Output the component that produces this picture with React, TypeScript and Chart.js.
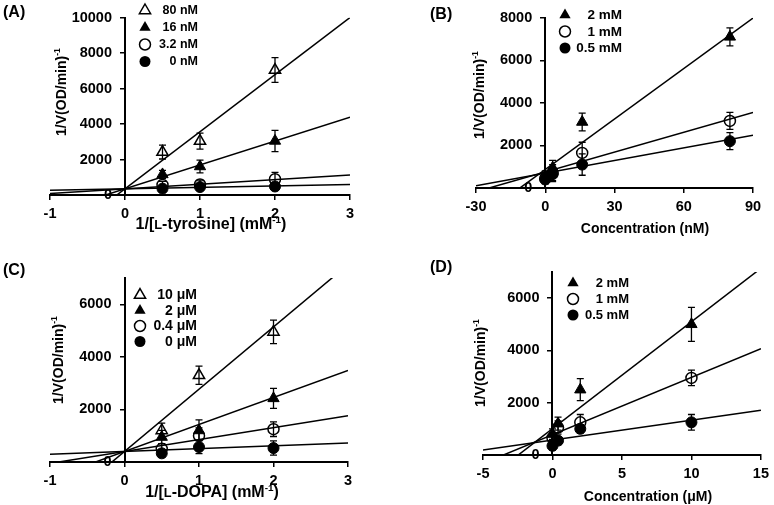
import React, { useEffect, useRef } from 'react';
import { Chart, registerables, LinearScale } from 'chart.js';

Chart.register(...registerables);

// Linear scale whose tick labels keep the tick + padding gap when the axis is
// placed at a data value ({ x: 0 }) rather than at a chart edge.
class CrossLinearScale extends (LinearScale as any) {
  static id = 'crossLinear';
  static defaults = (LinearScale as any).defaults;
  _computeLabelItems(chartArea: any) {
    const items = super._computeLabelItems(chartArea);
    const o: any = (this as any).options;
    if ((this as any).axis === 'y' && typeof o.position === 'object') {
      const shift = (o.grid && o.grid.drawTicks ? o.grid.tickLength : 0) + o.ticks.padding;
      items.forEach((it: any) => {
        it.options.translation[0] -= shift;
      });
    }
    return items;
  }
}
Chart.register(CrossLinearScale as any);

const FONT = "'Liberation Sans', Arial, Helvetica, sans-serif";

// ---------- Panel A : 1/[L-tyrosine] (mM^-1), inhibitor series
const A_X = [0.5, 1, 2];
const A_SERIES = ['80 nM', '16 nM', '3.2 nM', '0 nM'];
const A_MARKERS = ['openTri', 'fillTri', 'openCircle', 'fillCircle'];
const A_MEANS = [[2420, 3040, 7050], [1160, 1610, 3050], [570, 590, 890], [360, 450, 480]];
const A_ERRORS = [[390, 450, 700], [230, 360, 600], [200, 250, 390], [120, 150, 150]];
const A_SLOPE = [3220, 1347, 260, 80];
const A_INTERCEPT = [350, 350, 350, 350];
const A_XTICKS = [-1, 0, 1, 2, 3];
const A_YTICKS = [0, 2000, 4000, 6000, 8000, 10000];

// ---------- Panel B : Concentration (nM), substrate series
const B_X = [0, 3.2, 16, 80];
const B_SERIES = ['2 mM', '1 mM', '0.5 mM'];
const B_MARKERS = ['fillTri', 'openCircle', 'fillCircle'];
const B_MEANS = [[550, 950, 3100, 7100], [450, 700, 1650, 3150], [400, 650, 1100, 2200]];
const B_ERRORS = [[250, 350, 420, 420], [200, 400, 500, 400], [200, 300, 500, 400]];
const B_SLOPE = [79, 31, 19.8];
const B_INTERCEPT = [869, 755, 700];
const B_XTICKS = [-30, 0, 30, 60, 90];
const B_YTICKS = [0, 2000, 4000, 6000, 8000];

// ---------- Panel C : 1/[L-DOPA] (mM^-1), inhibitor series
const C_X = [0.5, 1, 2];
const C_SERIES = ['10 μM', '2 μM', '0.4 μM', '0 μM'];
const C_MARKERS = ['openTri', 'fillTri', 'openCircle', 'fillCircle'];
const C_MEANS = [[1200, 3300, 4950], [950, 1200, 2420], [500, 1000, 1250], [330, 570, 530]];
const C_ERRORS = [[280, 350, 450], [250, 400, 380], [200, 300, 280], [150, 250, 270]];
const C_SLOPE = [2370, 1027, 453, 107];
const C_INTERCEPT = [400, 400, 400, 400];
const C_XTICKS = [-1, 0, 1, 2, 3];
const C_YTICKS = [0, 2000, 4000, 6000];

// ---------- Panel D : Concentration (μM), substrate series
const D_X = [0, 0.4, 2, 10];
const D_SERIES = ['2 mM', '1 mM', '0.5 mM'];
const D_MARKERS = ['fillTri', 'openCircle', 'fillCircle'];
const D_MEANS = [[800, 1200, 2500, 5000], [650, 1050, 1250, 2950], [350, 550, 1000, 1250]];
const D_ERRORS = [[200, 250, 420, 650], [200, 250, 300, 300], [150, 150, 150, 300]];
const D_SLOPE = [409, 219.5, 76];
const D_INTERCEPT = [1007, 775, 571];
const D_XTICKS = [-5, 0, 5, 10, 15];
const D_YTICKS = [0, 2000, 4000, 6000];

type Panel = {
  id: string;
  x: number[];
  series: string[];
  markers: string[];
  means: number[][];
  errors: number[][];
  slope: number[];
  intercept: number[];
  xTicks: number[];
  yTicks: number[];
  xRange: [number, number];
  yRange: [number, number];
  pad: { left: number; right: number; top: number; bottom: number };
  legend: { markerX: number; textRight: number; y0: number; dy: number; size: number };
};

const PANELS: Panel[] = [
  {
    id: 'A', x: A_X, series: A_SERIES, markers: A_MARKERS, means: A_MEANS, errors: A_ERRORS,
    slope: A_SLOPE, intercept: A_INTERCEPT, xTicks: A_XTICKS, yTicks: A_YTICKS,
    xRange: [-1, 3], yRange: [0, 10000],
    pad: { left: 50, right: 424, top: 9, bottom: 285 },
    legend: { markerX: 145, textRight: 198, y0: 10.5, dy: 17, size: 12.5 },
  },
  {
    id: 'B', x: B_X, series: B_SERIES, markers: B_MARKERS, means: B_MEANS, errors: B_ERRORS,
    slope: B_SLOPE, intercept: B_INTERCEPT, xTicks: B_XTICKS, yTicks: B_YTICKS,
    xRange: [-30, 90], yRange: [0, 8000],
    pad: { left: 476, right: 21, top: 13, bottom: 292 },
    legend: { markerX: 565, textRight: 622, y0: 15, dy: 16.5, size: 13.5 },
  },
  {
    id: 'C', x: C_X, series: C_SERIES, markers: C_MARKERS, means: C_MEANS, errors: C_ERRORS,
    slope: C_SLOPE, intercept: C_INTERCEPT, xTicks: C_XTICKS, yTicks: C_YTICKS,
    xRange: [-1, 3], yRange: [0, 7000],
    pad: { left: 50, right: 426, top: 278, bottom: 18 },
    legend: { markerX: 140, textRight: 197, y0: 295, dy: 15.5, size: 14 },
  },
  {
    id: 'D', x: D_X, series: D_SERIES, markers: D_MARKERS, means: D_MEANS, errors: D_ERRORS,
    slope: D_SLOPE, intercept: D_INTERCEPT, xTicks: D_XTICKS, yTicks: D_YTICKS,
    xRange: [-5, 15], yRange: [0, 7000],
    pad: { left: 483, right: 11, top: 272, bottom: 25 },
    legend: { markerX: 573, textRight: 629, y0: 283, dy: 16, size: 13 },
  },
];

const MARKER_STYLE: Record<string, { style: string; filled: boolean; r: number }> = {
  openTri: { style: 'triangle', filled: false, r: 6.5 },
  fillTri: { style: 'triangle', filled: true, r: 6.5 },
  openCircle: { style: 'circle', filled: false, r: 5.5 },
  fillCircle: { style: 'circle', filled: true, r: 5.5 },
};

function drawMarker(ctx: CanvasRenderingContext2D, kind: string, x: number, y: number) {
  const m = MARKER_STYLE[kind];
  ctx.beginPath();
  if (m.style === 'triangle') {
    const r = m.r;
    ctx.moveTo(x, y - r);
    ctx.lineTo(x + r * 0.866, y + r * 0.5);
    ctx.lineTo(x - r * 0.866, y + r * 0.5);
    ctx.closePath();
  } else {
    ctx.arc(x, y, m.r, 0, Math.PI * 2);
  }
  if (m.filled) {
    ctx.fillStyle = '#000';
    ctx.fill();
  } else {
    ctx.lineWidth = 1.5;
    ctx.strokeStyle = '#000';
    ctx.stroke();
  }
}

function makeDecor(p: Panel) {
  return {
    id: 'decor' + p.id,
    afterDatasetsDraw(chart: any) {
      const ctx: CanvasRenderingContext2D = chart.ctx;
      const xs = chart.scales.x;
      const ys = chart.scales.y;
      ctx.save();
      ctx.strokeStyle = '#000';
      ctx.lineWidth = 1.3;
      p.means.forEach((row, i) =>
        row.forEach((m, j) => {
          const e = p.errors[i][j];
          const px = xs.getPixelForValue(p.x[j]);
          const yt = ys.getPixelForValue(m + e);
          const yb = ys.getPixelForValue(Math.max(m - e, 0));
          ctx.beginPath();
          ctx.moveTo(px, yt);
          ctx.lineTo(px, yb);
          ctx.moveTo(px - 3.5, yt);
          ctx.lineTo(px + 3.5, yt);
          ctx.moveTo(px - 3.5, yb);
          ctx.lineTo(px + 3.5, yb);
          ctx.stroke();
        })
      );
      // legend
      const L = p.legend;
      ctx.font = `bold ${L.size}px ${FONT}`;
      ctx.textAlign = 'right';
      ctx.textBaseline = 'middle';
      p.series.forEach((label, i) => {
        const y = L.y0 + i * L.dy;
        drawMarker(ctx, p.markers[i], L.markerX, y);
        ctx.fillStyle = '#000';
        ctx.fillText(label, L.textRight, y + 0.5);
      });
      ctx.restore();
    },
  };
}

function buildConfig(p: Panel): any {
  const pointSets = p.series.map((label, i) => {
    const m = MARKER_STYLE[p.markers[i]];
    return {
      label,
      data: p.x.map((xv, j) => ({ x: xv, y: p.means[i][j] })),
      showLine: false,
      pointStyle: m.style,
      pointRadius: m.r,
      pointBackgroundColor: m.filled ? '#000' : 'rgba(0,0,0,0)',
      pointBorderColor: '#000',
      pointBorderWidth: m.filled ? 1 : 1.5,
      order: 1,
    };
  });
  const fitSets = p.series.map((label, i) => ({
    label: label + ' fit',
    data: [p.xRange[0], p.xRange[1]].map((xv) => ({ x: xv, y: p.intercept[i] + p.slope[i] * xv })),
    showLine: true,
    borderColor: '#000',
    borderWidth: 1.5,
    pointRadius: 0,
    fill: false,
    clip: 0,
    order: 2,
  }));
  const font = { family: FONT, size: 14.5, weight: 'bold' as const };
  const grid = { display: true, drawOnChartArea: false, drawTicks: true, tickLength: 5, color: '#000', lineWidth: 1.5 };
  const border = { display: true, color: '#000', width: 2 };
  return {
    type: 'scatter',
    data: { datasets: [...fitSets, ...pointSets] },
    options: {
      responsive: false,
      animation: false,
      devicePixelRatio: 1,
      layout: { padding: p.pad },
      plugins: { legend: { display: false }, tooltip: { enabled: false }, title: { display: false } },
      scales: {
        x: {
          type: 'linear',
          position: 'bottom',
          min: p.xRange[0],
          max: p.xRange[1],
          afterBuildTicks: (s: any) => { s.ticks = p.xTicks.map((v) => ({ value: v })); },
          afterFit: (s: any) => { s.height = 25; },
          grid,
          border,
          ticks: { color: '#000', font, padding: 5, maxRotation: 0, autoSkip: false, callback: (v: any) => String(v) },
        },
        y: {
          type: 'crossLinear',
          position: { x: 0 },
          min: p.yRange[0],
          max: p.yRange[1],
          afterBuildTicks: (s: any) => { s.ticks = p.yTicks.map((v) => ({ value: v })); },
          grid: { ...grid, tickLength: 4 },
          border,
          ticks: { color: '#000', font, padding: 9, autoSkip: false, callback: (v: any) => String(v) },
        },
      },
    },
    plugins: [makeDecor(p)],
  };
}

const sup = (t: string) => (
  <span style={{ fontSize: '0.62em', position: 'relative', top: '-0.65em' }}>{t}</span>
);

const txt = (left: number, top: number, size: number, content: React.ReactNode, rotate = false) => (
  <div
    style={{
      position: 'absolute',
      left,
      top,
      transform: rotate ? 'translate(-50%,-50%) rotate(-90deg)' : 'translate(-50%,-50%)',
      font: `bold ${size}px ${FONT}`,
      whiteSpace: 'nowrap',
      lineHeight: 1,
      color: '#000',
    }}
  >
    {content}
  </div>
);

const label = (left: number, top: number, t: string) => (
  <div style={{ position: 'absolute', left, top, transform: 'translateY(-50%)', font: `bold 16px ${FONT}`, lineHeight: 1, color: '#000' }}>{t}</div>
);

const yTitle = <>1/V(OD/min){sup('-1')}</>;
const smallL = <span style={{ fontSize: '0.8em' }}>L</span>;

export default function App() {
  const r0 = useRef<HTMLCanvasElement>(null);
  const r1 = useRef<HTMLCanvasElement>(null);
  const r2 = useRef<HTMLCanvasElement>(null);
  const r3 = useRef<HTMLCanvasElement>(null);
  const refs = [r0, r1, r2, r3];
  useEffect(() => {
    const charts = PANELS.map((p, i) => new Chart(refs[i].current as HTMLCanvasElement, buildConfig(p)));
    return () => charts.forEach((c) => c.destroy());
  }, []);
  return (
    <div style={{ position: 'absolute', left: 0, top: 0, width: 774, height: 505, background: '#fff', overflow: 'hidden' }}>
      {PANELS.map((p, i) => (
        <canvas
          key={p.id}
          ref={refs[i]}
          width={774}
          height={505}
          style={{ position: 'absolute', left: 0, top: 0, width: 774, height: 505 }}
        />
      ))}
      {label(3, 12, '(A)')}
      {label(430, 14, '(B)')}
      {label(3, 270, '(C)')}
      {label(430, 267, '(D)')}
      {txt(211, 224, 16, <>1/[{smallL}-tyrosine] (mM{sup('-1')})</>)}
      {txt(61, 92, 14, yTitle, true)}
      {txt(645, 228, 14, <>Concentration (nM)</>)}
      {txt(479, 95, 14, yTitle, true)}
      {txt(212, 492, 16, <>1/[{smallL}-DOPA] (mM{sup('-1')})</>)}
      {txt(58, 360, 14, yTitle, true)}
      {txt(648, 496, 14, <>Concentration (μM)</>)}
      {txt(480, 363, 14, yTitle, true)}
    </div>
  );
}
